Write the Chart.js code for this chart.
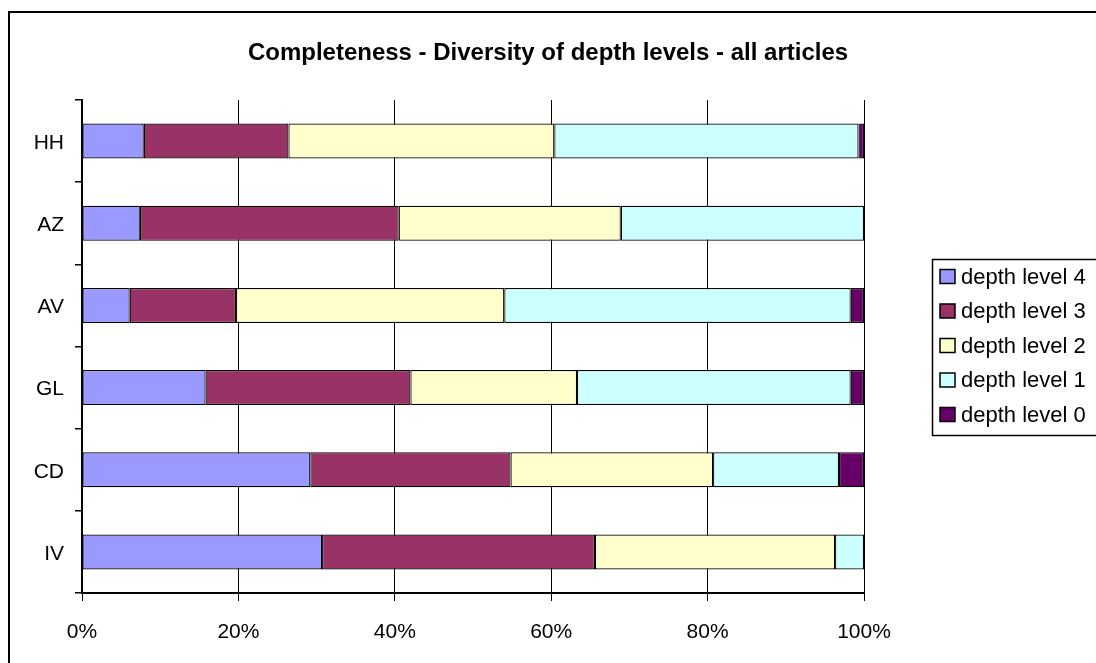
<!DOCTYPE html>
<html>
<head>
<meta charset="utf-8">
<title>Completeness - Diversity of depth levels - all articles</title>
<script src="https://cdn.jsdelivr.net/npm/chart.js@4/dist/chart.umd.min.js"></script>
<style>
  html, body { margin: 0; padding: 0; background: #fff; }
  canvas { display: block; }
</style>
</head>
<body>
<canvas id="chart" width="1096" height="663"></canvas>
<script>
// Categories, top to bottom
const categories = ['HH', 'AZ', 'AV', 'GL', 'CD', 'IV'];

// Share of articles per depth level (%), one array per series
const depthLevel4 = [7.9, 7.4, 6.1, 15.8, 29.2, 30.7];
const depthLevel3 = [18.5, 33.1, 13.6, 26.2, 25.6, 34.9];
const depthLevel2 = [34.0, 28.4, 34.3, 21.3, 25.9, 30.7];
const depthLevel1 = [38.9, 31.1, 44.3, 35.0, 16.1, 3.7];
const depthLevel0 = [0.7, 0.0, 1.7, 1.7, 3.2, 0.0];

const seriesNames = ['depth level 4', 'depth level 3', 'depth level 2', 'depth level 1', 'depth level 0'];
const seriesColors = ['#9999FF', '#993366', '#FFFFCC', '#CCFFFF', '#660066'];

// Axis ticks (%)
const xTicks = [0, 20, 40, 60, 80, 100];

const chartTitle = 'Completeness - Diversity of depth levels - all articles';
const FONT = "'Liberation Sans', Arial, sans-serif";

const seriesValues = [depthLevel4, depthLevel3, depthLevel2, depthLevel1, depthLevel0];

const datasets = seriesNames.map((name, i) => ({
  label: name,
  data: seriesValues[i],
  backgroundColor: seriesColors[i],
  borderColor: '#000000',
  borderWidth: 1.2,
  borderSkipped: false,
  categoryPercentage: 1.0,
  barPercentage: 0.425
}));

// Frame, title and boxed legend
const decorations = {
  id: 'decorations',
  afterDraw(chart) {
    const ctx = chart.ctx;
    ctx.save();
    // outer frame
    ctx.strokeStyle = '#000';
    ctx.lineWidth = 2;
    ctx.strokeRect(9, 12, 1200, 800);

    // title
    ctx.fillStyle = '#000';
    ctx.font = 'bold 24px ' + FONT;
    ctx.textAlign = 'center';
    ctx.textBaseline = 'middle';
    ctx.fillText(chartTitle, 548, 53);

    // legend
    ctx.lineWidth = 1.5;
    ctx.strokeRect(932.5, 259.5, 300, 176);
    ctx.font = '22px ' + FONT;
    ctx.textAlign = 'left';
    chart.data.datasets.forEach((ds, i) => {
      const cy = 276.5 + i * 34.5;
      ctx.fillStyle = ds.backgroundColor;
      ctx.fillRect(940, cy - 7, 15, 14);
      ctx.lineWidth = 1.5;
      ctx.strokeStyle = '#000';
      ctx.strokeRect(940, cy - 7, 15, 14);
      ctx.fillStyle = '#000';
      ctx.fillText(ds.label, 961, cy + 1);
    });
    ctx.restore();
  }
};

new Chart(document.getElementById('chart'), {
  type: 'bar',
  data: { labels: categories, datasets },
  options: {
    indexAxis: 'y',
    responsive: false,
    animation: false,
    layout: { padding: { left: 8, top: 100, right: 232, bottom: 12 } },
    plugins: {
      legend: { display: false },
      title: { display: false },
      tooltip: { enabled: false }
    },
    scales: {
      x: {
        stacked: true,
        min: 0,
        max: 100,
        afterFit(scale) { scale.height = 58; },
        afterBuildTicks(scale) { scale.ticks = xTicks.map(v => ({ value: v })); },
        ticks: {
          color: '#000',
          font: { family: FONT, size: 21 },
          padding: 19,
          maxRotation: 0,
          callback: v => v + '%'
        },
        grid: {
          color: '#000',
          lineWidth: 1,
          drawTicks: true,
          tickLength: 8,
          tickColor: '#000'
        },
        border: { display: true, color: '#000', width: 2 }
      },
      y: {
        stacked: true,
        afterFit(scale) { scale.width = 74; },
        ticks: {
          color: '#000',
          font: { family: FONT, size: 21 },
          padding: 11,
          labelOffset: 2
        },
        grid: {
          offset: true,
          drawOnChartArea: false,
          drawTicks: true,
          tickLength: 7,
          color: '#000',
          lineWidth: 1.5
        },
        border: { display: true, color: '#000', width: 2 }
      }
    }
  },
  plugins: [decorations]
});
</script>
</body>
</html>
